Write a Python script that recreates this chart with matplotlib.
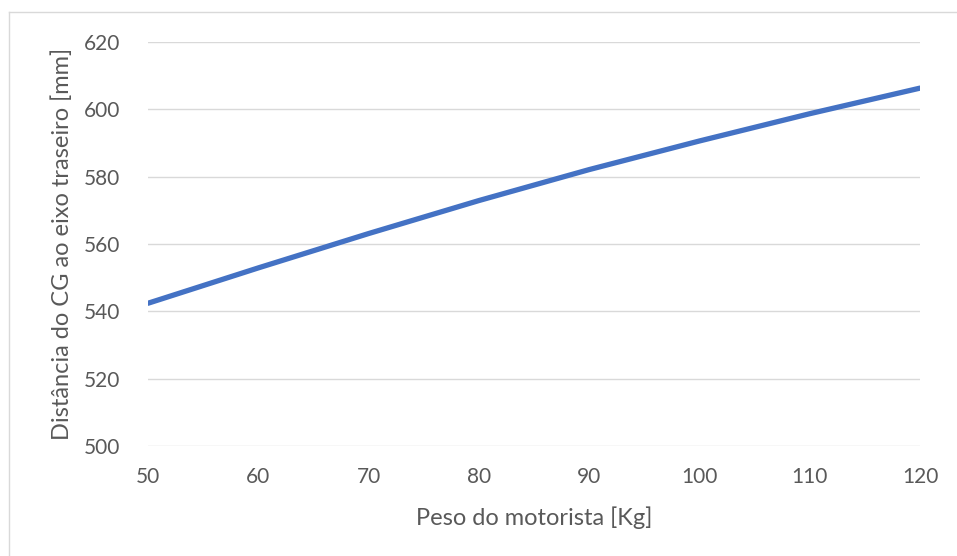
import matplotlib.pyplot as plt
from matplotlib.lines import Line2D

peso = [50, 60, 70, 80, 90, 100, 110, 120]
distancia = [542.4, 552.9, 563.1, 572.9, 582.1, 590.6, 598.7, 606.3]
y_ticks = [500, 520, 540, 560, 580, 600, 620]
x_ticks = [50, 60, 70, 80, 90, 100, 110, 120]

plt.rcParams['font.family'] = ['Lato', 'DejaVu Sans']

fig = plt.figure(figsize=(9.57, 5.56), dpi=100)
ax = fig.add_axes([148 / 957, 1 - 446 / 556, 772 / 957, 404 / 556])

ax.plot(peso, distancia, color='#4472C4', linewidth=3.8,
        solid_capstyle='round', solid_joinstyle='round', zorder=3)

ax.set_xlim(50, 120)
ax.set_ylim(500, 620)
ax.set_xticks(x_ticks)
ax.set_yticks(y_ticks)
ax.grid(axis='y', color='#d9d9d9', linewidth=1.0)
ax.set_axisbelow(True)
for s in ax.spines.values():
    s.set_visible(False)
ax.tick_params(length=0, labelsize=15, labelcolor='#595959')
ax.tick_params(axis='x', pad=15)
ax.tick_params(axis='y', pad=20)

ax.set_xlabel('Peso do motorista [Kg]', fontsize=17, color='#595959', labelpad=14)
ax.set_ylabel('Distância do CG ao eixo traseiro [mm]', fontsize=17, color='#595959', labelpad=8)

# chart-area border (only top and left edges visible in the crop)
fig.add_artist(Line2D([9 / 957, 9 / 957], [0, 1 - 12 / 556], color='#d9d9d9', linewidth=1.0,
                      transform=fig.transFigure))
fig.add_artist(Line2D([9 / 957, 1], [1 - 12 / 556, 1 - 12 / 556], color='#d9d9d9', linewidth=1.0,
                      transform=fig.transFigure))

fig.savefig('out.png', dpi=100, facecolor='white')
